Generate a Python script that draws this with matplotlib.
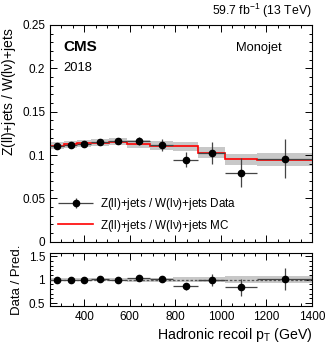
import numpy as np
import matplotlib
matplotlib.use("Agg")
import matplotlib.pyplot as plt
from matplotlib.ticker import MultipleLocator, FormatStrFormatter
from matplotlib.legend_handler import HandlerErrorbar

plt.rcParams['font.family'] = ['Liberation Sans', 'DejaVu Sans']
plt.rcParams['mathtext.fontset'] = 'custom'
plt.rcParams['mathtext.rm'] = 'Liberation Sans'
plt.rcParams['mathtext.it'] = 'Liberation Sans'

# --- data ---
bin_edges = [250, 310, 370, 430, 510, 590, 690, 790, 900, 1020, 1160, 1400]
mc_ratio = [0.1109, 0.1125, 0.1136, 0.1143, 0.1155, 0.1128, 0.1109, 0.1100, 0.1028, 0.0951, 0.0948]
mc_unc = [0.0040, 0.0040, 0.0040, 0.0040, 0.0040, 0.0045, 0.0050, 0.0055, 0.0060, 0.0065, 0.0075]
data_ratio = [0.1100, 0.1112, 0.1130, 0.1150, 0.1157, 0.1165, 0.1120, 0.0945, 0.1022, 0.0797, 0.0958]
data_err = [0.0020, 0.0022, 0.0024, 0.0027, 0.0032, 0.0045, 0.0070, 0.0085, 0.0127, 0.0167, 0.0225]

edges = np.array(bin_edges, dtype=float)
mc = np.array(mc_ratio)
mcu = np.array(mc_unc)
dat = np.array(data_ratio)
derr = np.array(data_err)
centers = 0.5 * (edges[1:] + edges[:-1])
halfw = 0.5 * (edges[1:] - edges[:-1])

W, H = 332, 347
fig = plt.figure(figsize=(W / 100, H / 100), dpi=100)
ax = fig.add_axes([50 / W, 1 - 241.7 / H, 262 / W, 216.7 / H])
rax = fig.add_axes([50 / W, 1 - 306 / H, 262 / W, 52.7 / H], sharex=ax)

grey = '#c8c8c8'
eb_style = dict(fmt='o', color='black', ecolor='#444444', ms=4.5, elinewidth=0.9, capsize=0)

# main panel
ax.fill_between(edges, np.append(mc - mcu, mc[-1] - mcu[-1]), np.append(mc + mcu, mc[-1] + mcu[-1]),
                step='post', color=grey, lw=0, zorder=1)
ax.stairs(mc, edges, color='red', lw=1.2, zorder=2, baseline=None)
h_data = ax.errorbar(centers, dat, xerr=halfw, yerr=derr, zorder=3, **eb_style)
h_mc, = ax.plot([], [], color='red', lw=1.2)

ax.legend([h_data, h_mc],
          [r'Z(ll)+jets / W(l$\nu$)+jets Data', r'Z(ll)+jets / W(l$\nu$)+jets MC'],
          loc='lower left', bbox_to_anchor=(0.0, 0.0), frameon=False, fontsize=8.4,
          handlelength=3.0, handletextpad=0.6, labelspacing=0.45, borderaxespad=0.3,
          handler_map={type(h_data): HandlerErrorbar(xerr_size=1.5, yerr_size=0.45)})

ax.set_ylim(0, 0.25)
ax.set_xlim(250, 1400)
ax.yaxis.set_major_locator(MultipleLocator(0.05))
ax.yaxis.set_minor_locator(MultipleLocator(0.01))
ax.yaxis.set_major_formatter(FormatStrFormatter('%g'))
ax.set_ylabel(r'Z(ll)+jets / W(l$\nu$)+jets', fontsize=10, loc='top')
ax.yaxis.set_label_coords(-32 / 262, 0.99)
plt.setp(ax.get_xticklabels(), visible=False)

ax.text(0.05, 0.90, 'CMS', transform=ax.transAxes, fontsize=11, fontweight='bold', va='center')
ax.text(0.05, 0.80, '2018', transform=ax.transAxes, fontsize=9.3, va='center')
ax.text(0.885, 0.893, 'Monojet', transform=ax.transAxes, fontsize=9.3, va='center', ha='right')
ax.text(1.0, 1.025, r'59.7 fb$^{-1}$ (13 TeV)', transform=ax.transAxes, fontsize=8.8, ha='right', va='bottom')

# ratio panel
r_mc_unc = mcu / mc
rax.fill_between(edges, np.append(1 - r_mc_unc, 1 - r_mc_unc[-1]), np.append(1 + r_mc_unc, 1 + r_mc_unc[-1]),
                 step='post', color=grey, lw=0, zorder=1)
rax.axhline(1.0, color='#555555', ls=(0, (2, 1.5)), lw=0.9, zorder=2)
rax.errorbar(centers, dat / mc, xerr=halfw, yerr=derr / mc, zorder=3, **eb_style)
rax.set_ylim(0.44, 1.56)
rax.yaxis.set_major_locator(MultipleLocator(0.5))
rax.yaxis.set_minor_locator(MultipleLocator(0.1))
rax.yaxis.set_major_formatter(FormatStrFormatter('%g'))
rax.xaxis.set_major_locator(MultipleLocator(200))
rax.xaxis.set_minor_locator(MultipleLocator(50))
rax.set_ylabel('Data / Pred.', fontsize=9.5)
rax.yaxis.set_label_coords(-27 / 262, 0.5)
rax.set_xlabel(r'Hadronic recoil p$_{\mathrm{T}}$ (GeV)', fontsize=10.2, loc='right', labelpad=2)

for a in (ax, rax):
    a.tick_params(which='both', direction='in', top=True, right=True, labelsize=8.5, width=0.7)
    a.tick_params(which='major', length=5)
    a.tick_params(which='minor', length=2.5)
    for s in a.spines.values():
        s.set_linewidth(0.8)

fig.savefig('out.png', dpi=100)
